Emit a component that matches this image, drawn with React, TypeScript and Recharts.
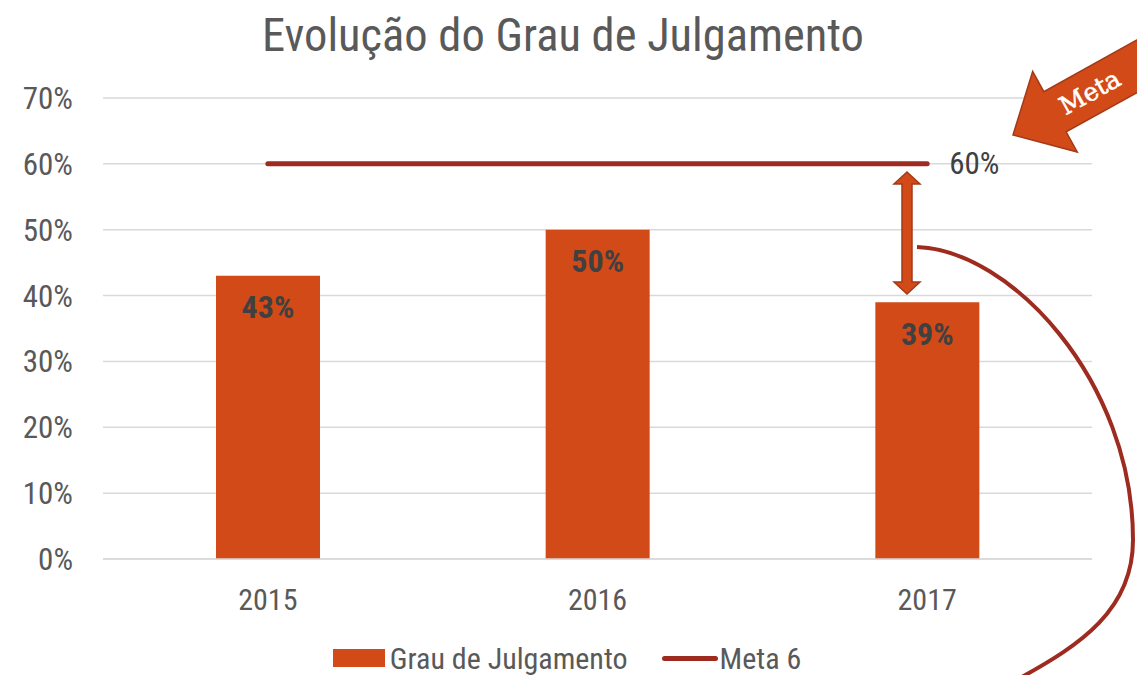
import React from 'react';
import { ComposedChart, Bar, Line, XAxis, YAxis, CartesianGrid, Legend, LabelList } from 'recharts';

// Chart values
const years = ['2015', '2016', '2017'];
const grauJulgamento = [43, 50, 39];
const meta = [60, 60, 60];
const yTicks = [0, 10, 20, 30, 40, 50, 60, 70];

const data = years.map((year, i) => ({
  year,
  grau: grauJulgamento[i],
  meta: meta[i],
}));

const FONT = '"Roboto Condensed", "Liberation Sans Narrow", "Liberation Sans", Arial, sans-serif';
const BAR_COLOR = '#d24a17';
const LINE_COLOR = '#9e2b20';
const TEXT_COLOR = '#595959';

const BarValueLabel = (props: any) => {
  const { x, y, width, value } = props;
  return (
    <text
      x={x + width / 2}
      y={y + 34}
      textAnchor="middle"
      dominantBaseline="middle"
      fontFamily={FONT}
      fontWeight="bold"
      fontSize={32}
      fill="#404040"
    >
      {value}%
    </text>
  );
};

const MetaEndLabel = (props: any) => {
  const { x, y, value, index } = props;
  if (index !== years.length - 1) return null;
  return (
    <text x={x + 22} y={y + 2} dominantBaseline="middle" fontFamily={FONT} fontSize={31} fill="#404040">
      {value}%
    </text>
  );
};

const LegendContent = () => (
  <div
    style={{
      display: 'flex',
      justifyContent: 'center',
      alignItems: 'center',
      gap: 34,
      fontFamily: FONT,
      fontSize: 30,
      color: TEXT_COLOR,
      height: 36,
      paddingLeft: 42,
    }}
  >
    <div style={{ display: 'flex', alignItems: 'center' }}>
      <span style={{ display: 'inline-block', width: 52, height: 18, background: BAR_COLOR, marginRight: 5 }} />
      Grau de Julgamento
    </div>
    <div style={{ display: 'flex', alignItems: 'center' }}>
      <span style={{ display: 'inline-block', width: 56, height: 5, borderRadius: 3, background: LINE_COLOR, marginRight: 2 }} />
      Meta 6
    </div>
  </div>
);

// Hand-drawn style annotations laid over the chart
const Annotations = () => (
  <svg width={1137} height={675} style={{ position: 'absolute', left: 0, top: 0, pointerEvents: 'none' }}>
    {/* curved callout line */}
    <path
      d="M917,247 C1010,250 1133,380 1133,540 C1133,610 1080,645 1020,678"
      fill="none"
      stroke={LINE_COLOR}
      strokeWidth={4}
    />
    {/* double-headed gap arrow */}
    <path
      d="M907,172 L920,184 L912,184 L912,282 L920,282 L907,294 L894,282 L902,282 L902,184 L894,184 Z"
      fill={BAR_COLOR}
      stroke="#a33a17"
      strokeWidth={1.5}
    />
    {/* "Meta" block arrow */}
    <g transform="translate(1013,135) rotate(-29)">
      <path
        d="M0,0 L48,-46 L48,-23 L200,-23 L200,23 L48,23 L48,46 Z"
        fill={BAR_COLOR}
        stroke="#a33a17"
        strokeWidth={1.5}
      />
      <text
        x={88}
        y={2}
        textAnchor="middle"
        dominantBaseline="middle"
        fontFamily='"DejaVu Serif", "Liberation Serif", serif'
        fontSize={25}
        fill="#ffffff"
        stroke="#ffffff"
        strokeWidth={0.6}
      >
        Meta
      </text>
    </g>
  </svg>
);

export default function App() {
  return (
    <div style={{ position: 'absolute', left: 0, top: 0, width: 1137, height: 675, background: '#fff' }}>
      <div
        style={{
          position: 'absolute',
          left: 0,
          top: 8,
          width: 1126,
          textAlign: 'center',
          fontFamily: FONT,
          fontSize: 46.5,
          color: TEXT_COLOR,
        }}
      >
        Evolução do Grau de Julgamento
      </div>
      <ComposedChart
        width={1137}
        height={675}
        data={data}
        margin={{ top: 98, right: 45, left: 0, bottom: 30 }}
        barCategoryGap="34%"
      >
        <CartesianGrid vertical={false} stroke="#d9d9d9" strokeWidth={1.5} />
        <XAxis
          dataKey="year"
          axisLine={{ stroke: '#d9d9d9', strokeWidth: 1.5 }}
          tickLine={false}
          tickSize={0}
          tickMargin={30}
          height={50}
          tick={{ fontFamily: FONT, fontSize: 30, fill: TEXT_COLOR }}
        />
        <YAxis
          domain={[0, 70]}
          ticks={yTicks}
          tickFormatter={(v: number) => `${v}%`}
          axisLine={false}
          tickLine={false}
          tickSize={0}
          tickMargin={30}
          width={103}
          tick={{ fontFamily: FONT, fontSize: 31, fill: TEXT_COLOR }}
        />
        <Legend verticalAlign="bottom" content={LegendContent} wrapperStyle={{ top: 640 }} />
        <Bar dataKey="grau" name="Grau de Julgamento" fill={BAR_COLOR} barSize={104} isAnimationActive={false}>
          <LabelList dataKey="grau" content={BarValueLabel} />
        </Bar>
        <Line
          dataKey="meta"
          name="Meta 6"
          type="linear"
          stroke={LINE_COLOR}
          strokeWidth={5}
          strokeLinecap="round"
          dot={false}
          activeDot={false}
          isAnimationActive={false}
        >
          <LabelList dataKey="meta" content={MetaEndLabel} />
        </Line>
      </ComposedChart>
      <Annotations />
    </div>
  );
}
